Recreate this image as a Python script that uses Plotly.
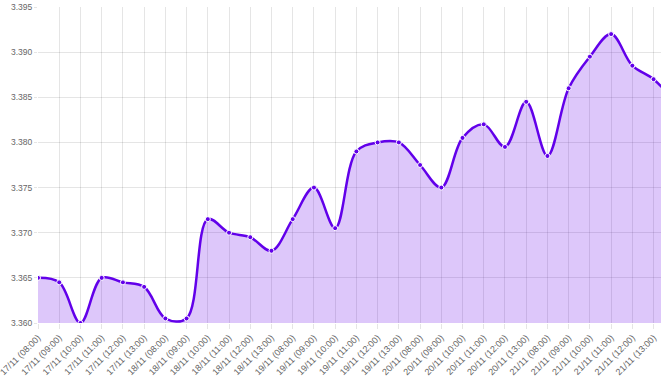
import plotly.graph_objects as go

labels = [
    "17/11 (08:00)", "17/11 (09:00)", "17/11 (10:00)", "17/11 (11:00)", "17/11 (12:00)", "17/11 (13:00)",
    "18/11 (08:00)", "18/11 (09:00)", "18/11 (10:00)", "18/11 (11:00)", "18/11 (12:00)", "18/11 (13:00)",
    "19/11 (08:00)", "19/11 (09:00)", "19/11 (10:00)", "19/11 (11:00)", "19/11 (12:00)", "19/11 (13:00)",
    "20/11 (08:00)", "20/11 (09:00)", "20/11 (10:00)", "20/11 (11:00)", "20/11 (12:00)", "20/11 (13:00)",
    "21/11 (08:00)", "21/11 (09:00)", "21/11 (10:00)", "21/11 (11:00)", "21/11 (12:00)", "21/11 (13:00)",
]
# last value continues just past the visible right edge
values = [
    3.3650, 3.3645, 3.3600, 3.3650, 3.3645, 3.3640,
    3.3605, 3.3605, 3.3715, 3.3700, 3.3695, 3.3680,
    3.3715, 3.3750, 3.3705, 3.3790, 3.3800, 3.3800,
    3.3775, 3.3750, 3.3805, 3.3820, 3.3795, 3.3845,
    3.3785, 3.3860, 3.3895, 3.3920, 3.3885, 3.3870,
    3.3845,
]
y_ticks = [3.360, 3.365, 3.370, 3.375, 3.380, 3.385, 3.390, 3.395]

xs = list(range(len(values)))
line_color = "#6200EA"

fig = go.Figure()
fig.add_trace(go.Scatter(
    x=xs, y=values,
    mode="lines+markers",
    line=dict(color=line_color, width=2.5, shape="spline", smoothing=1.0),
    marker=dict(size=5, color=line_color, line=dict(color="white", width=1)),
    fill="tozeroy",
    fillcolor="rgba(98,0,234,0.22)",
    hoverinfo="skip",
))

grid = "rgba(0,0,0,0.1)"
fig.update_layout(
    width=661, height=376,
    margin=dict(l=38, r=0, t=7, b=53),
    paper_bgcolor="white", plot_bgcolor="white",
    showlegend=False,
    font=dict(family="Liberation Sans, Arial, sans-serif", color="#666"),
)
fig.update_xaxes(
    range=[0, 29.35],
    automargin=False,
    tickmode="array",
    tickvals=list(range(len(labels))),
    ticktext=labels,
    tickangle=-45,
    tickfont=dict(size=9, color="#666"),
    ticklabeloverflow="allow",
    showgrid=True, gridcolor=grid, gridwidth=1,
    ticks="outside", ticklen=5, tickcolor=grid,
    zeroline=False, showline=False,
)
fig.update_yaxes(
    range=[3.360, 3.395],
    automargin=False,
    tickmode="array",
    tickvals=y_ticks,
    ticktext=[f"{v:.3f}" for v in y_ticks],
    tickfont=dict(size=8.5, color="#666"),
    showgrid=True, gridcolor=grid, gridwidth=1,
    ticks="outside", ticklen=3, tickcolor=grid,
    zeroline=False, showline=False,
)

fig.write_html("out.html")
